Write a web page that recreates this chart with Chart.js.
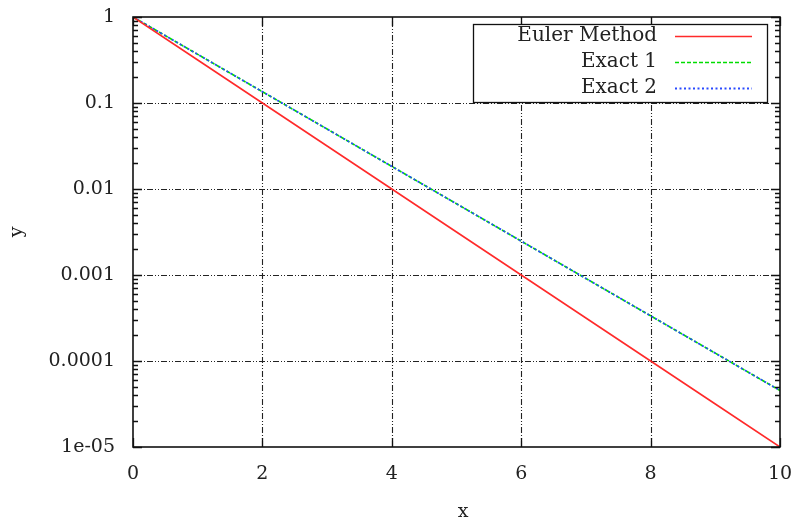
<!DOCTYPE html>
<html><head><meta charset="utf-8">
<script src="https://cdn.jsdelivr.net/npm/chart.js@4/dist/chart.umd.min.js"></script>
<style>html,body{margin:0;padding:0;background:#fff}#wrap{width:800px;height:520px}</style>
</head><body><div id="wrap"><canvas id="c" width="800" height="520"></canvas></div>
<script>
const xValues = [0, 1, 2, 3, 4, 5, 6, 7, 8, 9, 10];
const eulerValues = [1, 0.3162, 0.1, 0.03162, 0.01, 0.003162, 0.001, 0.0003162, 0.0001, 0.00003162, 0.00001];
const exact1Values = [1, 0.3679, 0.1353, 0.04979, 0.01832, 0.006738, 0.002479, 0.000912, 0.0003355, 0.0001234, 0.0000454];
const exact2Values = [1, 0.3679, 0.1353, 0.04979, 0.01832, 0.006738, 0.002479, 0.000912, 0.0003355, 0.0001234, 0.0000454];
const seriesLabels = ['Euler Method', 'Exact 1', 'Exact 2'];
const xTicks = [0, 2, 4, 6, 8, 10];
const yTicks = [1, 0.1, 0.01, 0.001, 0.0001, 0.00001];
const yTickLabels = ['1', '0.1', '0.01', '0.001', '0.0001', '1e-05'];
const xTitle = 'x';
const yTitle = 'y';

const FONT = 'DejaVu Serif';
const TXT = '#222';

const pts = ys => xValues.map((x, i) => ({x: x, y: ys[i]}));
const noPad = s => { s.paddingTop = 0; s.paddingBottom = 0; s.paddingLeft = 0; s.paddingRight = 0; };

const framePlugin = {
  id: 'frame',
  beforeDatasetsDraw(chart) {
    const {ctx, chartArea: a, scales: {x, y}} = chart;
    ctx.save();
    ctx.strokeStyle = '#222';
    ctx.lineWidth = 1.1;
    ctx.setLineDash([6, 2, 1, 2, 1, 2]);
    xTicks.slice(1, -1).forEach(v => {
      const px = Math.round(x.getPixelForValue(v)) + 0.5;
      ctx.beginPath(); ctx.moveTo(px, a.bottom); ctx.lineTo(px, a.top); ctx.stroke();
    });
    yTicks.slice(1, -1).forEach(v => {
      const py = Math.round(y.getPixelForValue(v)) + 0.5;
      ctx.beginPath(); ctx.moveTo(a.left, py); ctx.lineTo(a.right, py); ctx.stroke();
    });
    ctx.restore();
  },
  afterDatasetsDraw(chart) {
    const {ctx, chartArea: a, scales: {x, y}} = chart;
    ctx.save();
    ctx.strokeStyle = '#111';
    ctx.lineWidth = 1.3;
    ctx.setLineDash([]);
    for (let k = -5; k < 0; k++) {
      for (let m = 2; m <= 9; m++) {
        const py = Math.round(y.getPixelForValue(m * Math.pow(10, k))) + 0.5;
        ctx.beginPath();
        ctx.moveTo(a.left, py); ctx.lineTo(a.left + 5, py);
        ctx.moveTo(a.right, py); ctx.lineTo(a.right - 5, py);
        ctx.stroke();
      }
    }
    yTicks.forEach(v => {
      const py = Math.round(y.getPixelForValue(v)) + 0.5;
      ctx.beginPath();
      ctx.moveTo(a.left, py); ctx.lineTo(a.left + 9, py);
      ctx.moveTo(a.right, py); ctx.lineTo(a.right - 9, py);
      ctx.stroke();
    });
    xTicks.forEach(v => {
      const px = Math.round(x.getPixelForValue(v)) + 0.5;
      ctx.beginPath();
      ctx.moveTo(px, a.bottom); ctx.lineTo(px, a.bottom - 9);
      ctx.moveTo(px, a.top); ctx.lineTo(px, a.top + 9);
      ctx.stroke();
    });
    ctx.lineWidth = 1.6;
    ctx.strokeRect(a.left, a.top, a.right - a.left, a.bottom - a.top);

    ctx.fillStyle = TXT;
    ctx.font = '19px "' + FONT + '"';
    ctx.textAlign = 'center';
    ctx.textBaseline = 'middle';
    ctx.fillText(xTitle, 463, 512);
    ctx.save();
    ctx.translate(17, (a.top + a.bottom) / 2);
    ctx.rotate(-Math.PI / 2);
    ctx.fillText(yTitle, 0, 0);
    ctx.restore();

    const bx = 473, by = 24, bw = 294, bh = 78;
    ctx.fillStyle = '#fff';
    ctx.fillRect(bx, by, bw, bh);
    ctx.strokeStyle = '#111';
    ctx.lineWidth = 1.3;
    ctx.strokeRect(bx + 0.5, by + 0.5, bw, bh);
    ctx.font = '20px "' + FONT + '"';
    const rows = [36, 62, 88];
    chart.data.datasets.forEach((ds, i) => {
      ctx.fillStyle = TXT;
      ctx.textAlign = 'right';
      ctx.textBaseline = 'middle';
      ctx.fillText(ds.label, 657, rows[i]);
      ctx.strokeStyle = ds.borderColor;
      ctx.lineWidth = ds.borderWidth;
      ctx.setLineDash(ds.borderDash || []);
      ctx.beginPath();
      ctx.moveTo(675, rows[i] + 0.5); ctx.lineTo(752, rows[i] + 0.5);
      ctx.stroke();
    });
    ctx.restore();
  }
};

new Chart(document.getElementById('c'), {
  type: 'line',
  data: {
    datasets: [
      {label: seriesLabels[0], data: pts(eulerValues), order: 0, borderColor: '#ff2a2a', borderWidth: 1.6, pointRadius: 0, tension: 0},
      {label: seriesLabels[1], data: pts(exact1Values), order: 2, borderColor: '#00dd00', borderWidth: 1.6, borderDash: [4, 2], pointRadius: 0, tension: 0},
      {label: seriesLabels[2], data: pts(exact2Values), order: 1, borderColor: '#2a4aff', borderWidth: 1.8, borderDash: [2, 2.5], pointRadius: 0, tension: 0}
    ]
  },
  options: {
    responsive: false,
    animation: false,
    devicePixelRatio: 1,
    layout: {padding: {top: 17, right: 20, left: 0, bottom: 0}},
    plugins: {legend: {display: false}, tooltip: {enabled: false}},
    scales: {
      x: {
        type: 'linear', min: 0, max: 10,
        afterFit: s => { s.height = 73; noPad(s); },
        afterBuildTicks: s => { s.ticks = xTicks.map(v => ({value: v})); },
        grid: {display: false, drawTicks: false},
        border: {display: false},
        ticks: {padding: 16, maxRotation: 0, color: TXT, font: {family: FONT, size: 19}, callback: v => String(v)}
      },
      y: {
        type: 'logarithmic', min: 0.00001, max: 1,
        afterFit: s => { s.width = 133; noPad(s); },
        afterBuildTicks: s => { s.ticks = yTicks.map(v => ({value: v})); },
        grid: {display: false, drawTicks: false},
        border: {display: false},
        ticks: {padding: 18, color: TXT, font: {family: FONT, size: 19},
          callback: (v) => { const i = yTicks.findIndex(t => Math.abs(t - v) / t < 1e-6); return i >= 0 ? yTickLabels[i] : ''; }}
      }
    }
  },
  plugins: [framePlugin]
});
</script>
</body></html>
